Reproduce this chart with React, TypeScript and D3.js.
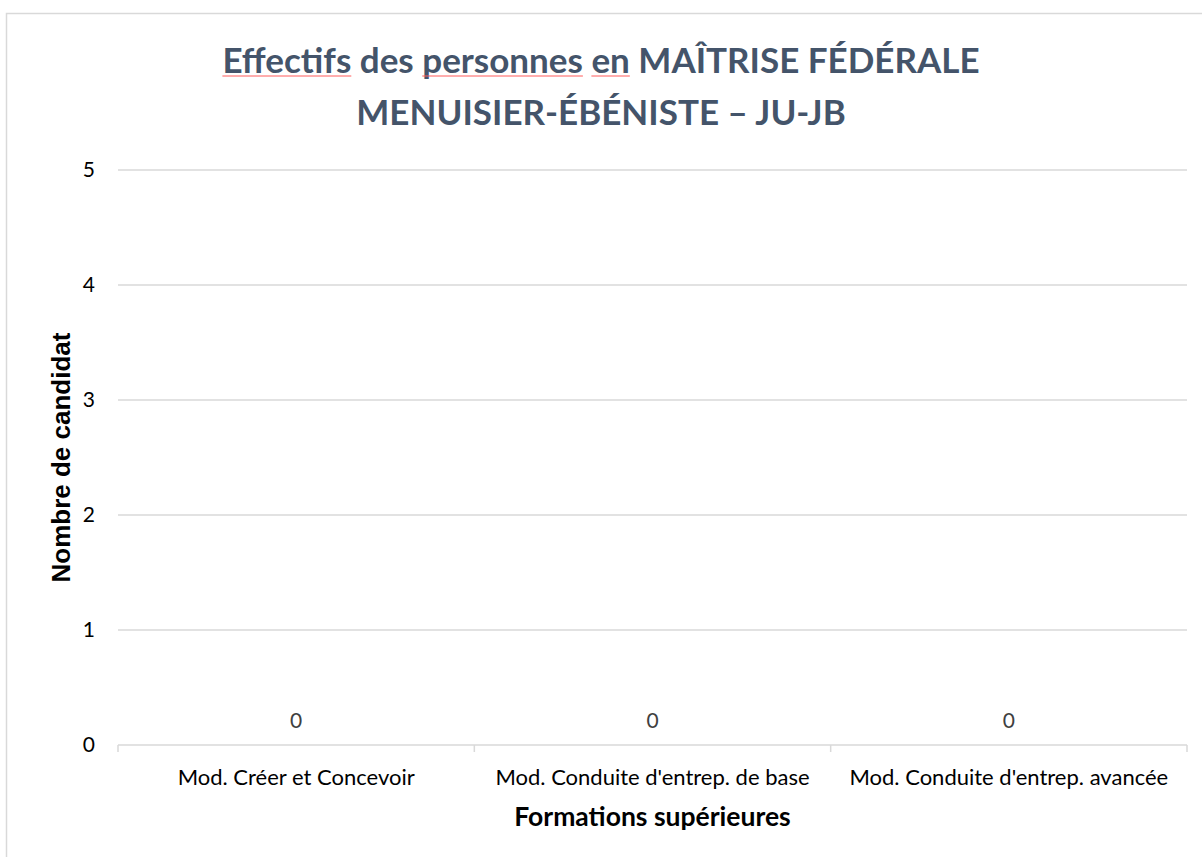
import React, { useEffect, useRef } from 'react';
import * as d3 from 'd3';

const categories = [
  'Mod. Créer et Concevoir',
  "Mod. Conduite d'entrep. de base",
  "Mod. Conduite d'entrep. avancée",
];
const values = [0, 0, 0];
const yTicks = [0, 1, 2, 3, 4, 5];
// words flagged by the spell checker get a red underline
const titleLine1 = [
  { t: 'Effectifs', flag: true },
  { t: ' des ', flag: false },
  { t: 'personnes', flag: true },
  { t: ' ', flag: false },
  { t: 'en', flag: true },
  { t: ' MAÎTRISE FÉDÉRALE', flag: false },
];
const titleLine2 = 'MENUISIER-ÉBÉNISTE – JU-JB';

const W = 1202;
const H = 857;
const left = 118;
const right = 1187;
const top = 170;
const bottom = 745;
const font = 'Lato, "Open Sans", sans-serif';

export default function App() {
  const titleRef = useRef<SVGTextElement>(null);
  const x = d3.scaleBand<string>().domain(categories).range([left, right]);
  const y = d3.scaleLinear().domain([0, 5]).range([bottom, top]);
  const dividers = categories.map((c) => x(c) as number).concat([right]);

  useEffect(() => {
    const el = titleRef.current;
    if (!el) return;
    const svg = d3.select(el.ownerSVGElement);
    svg.selectAll('.spell').remove();
    d3.select(el)
      .selectAll<SVGTSpanElement, unknown>('tspan')
      .each(function (_, i) {
        if (!titleLine1[i].flag) return;
        const start = this.getStartPositionOfChar(0).x;
        const len = this.getComputedTextLength();
        svg
          .append('line')
          .attr('class', 'spell')
          .attr('x1', start)
          .attr('x2', start + len)
          .attr('y1', 76)
          .attr('y2', 76)
          .style('stroke', '#ff5a5a')
          .style('stroke-width', 1);
      });
  }, []);

  return (
    <svg width={W} height={H} style={{ position: 'absolute', left: 0, top: 0 }}>
      <rect x={0} y={0} width={W} height={H} fill="#fff" />
      <rect x={6.5} y={13.5} width={W + 10} height={H + 10} fill="none" stroke="#d9d9d9" strokeWidth={1.5} />

      <text ref={titleRef} x={601} y={73} textAnchor="middle" fontFamily={font} fontWeight={700} fontSize={35} fill="#44546A">
        {titleLine1.map((w, i) => (
          <tspan key={i}>{w.t}</tspan>
        ))}
      </text>
      <text x={601} y={125} textAnchor="middle" fontFamily={font} fontWeight={700} fontSize={35} fill="#44546A">
        {titleLine2}
      </text>

      {yTicks.map((t) => (
        <line key={t} x1={left} x2={right} y1={y(t)} y2={y(t)} stroke="#d9d9d9" strokeWidth={1.5} />
      ))}
      {dividers.map((d, i) => (
        <line key={i} x1={d} x2={d} y1={y(0)} y2={y(0) + 7} stroke="#d9d9d9" strokeWidth={1.5} />
      ))}

      {yTicks.map((t) => (
        <text key={t} x={95} y={y(t)} dy="0.35em" textAnchor="end" fontFamily={font} fontSize={21} fill="#000">
          {t}
        </text>
      ))}

      {categories.map((c, i) => (
        <text
          key={c}
          x={(x(c) as number) + x.bandwidth() / 2}
          y={y(values[i]) - 17}
          textAnchor="middle"
          fontFamily={font}
          fontSize={21}
          fill="#404040"
        >
          {values[i]}
        </text>
      ))}

      {categories.map((c) => (
        <text
          key={c}
          x={(x(c) as number) + x.bandwidth() / 2}
          y={785}
          textAnchor="middle"
          fontFamily={font}
          fontSize={22}
          fill="#000"
        >
          {c}
        </text>
      ))}

      <text x={(left + right) / 2} y={826} textAnchor="middle" fontFamily={font} fontWeight={700} fontSize={26.5} fill="#000">
        Formations supérieures
      </text>
      <text
        transform={`translate(70, ${(top + bottom) / 2}) rotate(-90)`}
        textAnchor="middle"
        fontFamily='"Liberation Sans", Arial, sans-serif'
        fontWeight={700}
        fontSize={26}
        fill="#000"
      >
        Nombre de candidat
      </text>
    </svg>
  );
}
